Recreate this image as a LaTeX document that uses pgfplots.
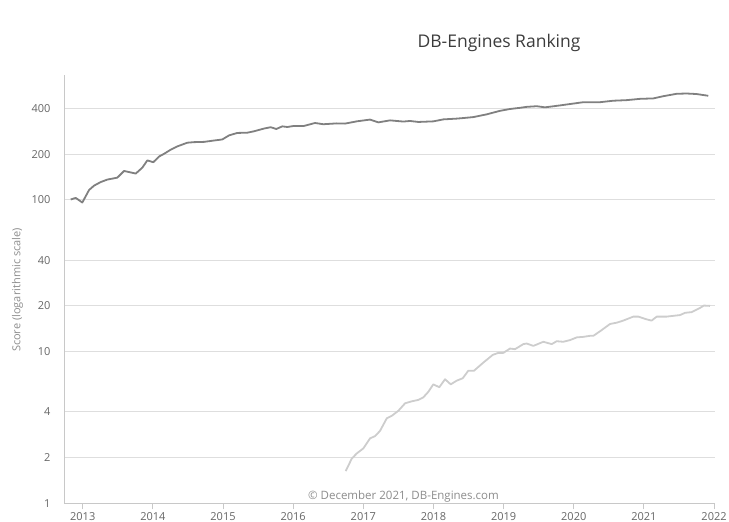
\documentclass[border=0pt]{standalone}
\usepackage{pgfplots}
\pgfplotsset{compat=1.18}
\usepackage{fontspec}
\setmainfont{Open Sans}
\definecolor{darkline}{RGB}{128,128,128}
\definecolor{lightline}{RGB}{205,205,205}
\definecolor{gridc}{RGB}{222,222,222}
\definecolor{axisc}{RGB}{200,200,200}
\definecolor{labelc}{RGB}{102,102,102}
\definecolor{titlec}{RGB}{60,60,60}
\definecolor{creditc}{RGB}{140,140,140}
\begin{document}
\begin{tikzpicture}[x=1bp,y=1bp]
\path[use as bounding box] (0,0) rectangle (729,522);
\begin{axis}[
  at={(64bp,18.7bp)}, anchor=south west,
  scale only axis, width=651.3bp, height=428.3bp,
  ymode=log, ymin=1, ymax=665,
  xmin=2012.733, xmax=2022.018,
  axis lines*=left,
  axis line style={axisc, line width=1bp, -},
  ytick={1,2,4,10,20,40,100,200,400},
  yticklabels={1,2,4,10,20,40,100,200,400},
  xtick={2013,2014,2015,2016,2017,2018,2019,2020,2021,2022},
  xticklabels={2013,2014,2015,2016,2017,2018,2019,2020,2021,2022},
  ytick style={draw=none},
  xtick style={axisc, line width=1bp},
  tick align=outside,
  major tick length=6bp,
  ymajorgrids, grid style={gridc, line width=1bp},
  tick label style={font=\fontsize{11bp}{13bp}\selectfont, text=labelc},
  yticklabel style={xshift=-4bp},
  xticklabel style={yshift=0.5bp},
  /pgf/number format/assume math mode=true,
  clip=false,
]
\addplot[darkline, line width=1.8bp, line join=round] coordinates {
(2012.829,100.5) (2012.900,103) (2012.994,96) (2013.090,116) (2013.161,124)
(2013.257,131) (2013.351,136) (2013.493,140) (2013.589,155) (2013.756,149)
(2013.850,163) (2013.921,182) (2014.006,177) (2014.088,193) (2014.159,201)
(2014.254,214) (2014.349,225) (2014.491,238) (2014.587,240) (2014.730,241)
(2014.872,246) (2014.990,250) (2015.086,266) (2015.204,276) (2015.346,277)
(2015.442,283) (2015.585,295) (2015.680,301) (2015.760,293) (2015.845,305)
(2015.917,302) (2016.012,307) (2016.155,307) (2016.311,321) (2016.430,315)
(2016.621,319) (2016.739,318) (2016.906,329) (2017.095,338) (2017.214,324)
(2017.381,334) (2017.570,328) (2017.666,331) (2017.784,326) (2017.998,329)
(2018.140,339) (2018.331,343) (2018.426,346) (2018.568,351) (2018.759,366)
(2018.948,386) (2019.091,397) (2019.233,404) (2019.329,410) (2019.472,414)
(2019.590,407) (2019.804,419) (2019.899,425) (2020.136,440) (2020.374,440)
(2020.564,450) (2020.755,454) (2020.945,463) (2021.134,466) (2021.277,482)
(2021.468,500) (2021.610,502) (2021.752,498) (2021.918,485)
};
\addplot[lightline, line width=1.8bp, line join=round] coordinates {
(2016.749,1.63) (2016.835,1.97) (2016.906,2.13) (2017.000,2.30) (2017.096,2.68)
(2017.167,2.77) (2017.238,3.00) (2017.334,3.63) (2017.405,3.77) (2017.499,4.07)
(2017.595,4.56) (2017.690,4.70) (2017.784,4.80) (2017.855,4.99) (2017.927,5.43)
(2017.998,6.08) (2018.083,5.82) (2018.165,6.57) (2018.246,6.08) (2018.331,6.43)
(2018.417,6.67) (2018.497,7.48) (2018.578,7.48) (2018.711,8.46) (2018.845,9.51)
(2018.924,9.80) (2018.996,9.80) (2019.091,10.47) (2019.163,10.37) (2019.281,11.2)
(2019.329,11.3) (2019.424,10.9) (2019.566,11.6) (2019.686,11.2) (2019.757,11.7)
(2019.851,11.6) (2019.947,11.9) (2020.042,12.4) (2020.136,12.5) (2020.232,12.7)
(2020.279,12.7) (2020.374,13.6) (2020.517,15.2) (2020.612,15.5) (2020.706,16.0)
(2020.849,17.0) (2020.920,17.0) (2021.040,16.3) (2021.109,16.0) (2021.184,17.0)
(2021.325,17.0) (2021.515,17.4) (2021.586,18.0) (2021.681,18.2) (2021.800,19.4)
(2021.856,20.1) (2021.942,20.0)
};
\end{axis}
\node[font=\fontsize{17.5bp}{20bp}\selectfont, text=titlec] at (499,479) {DB-Engines Ranking};
\node[font=\fontsize{11.5bp}{13bp}\selectfont, text=creditc] at (403.5,25) {© December 2021, DB-Engines.com};
\node[font=\fontsize{11bp}{12bp}\selectfont, text=creditc, rotate=90] at (17.5,232) {Score (logarithmic scale)};
\end{tikzpicture}
\end{document}
